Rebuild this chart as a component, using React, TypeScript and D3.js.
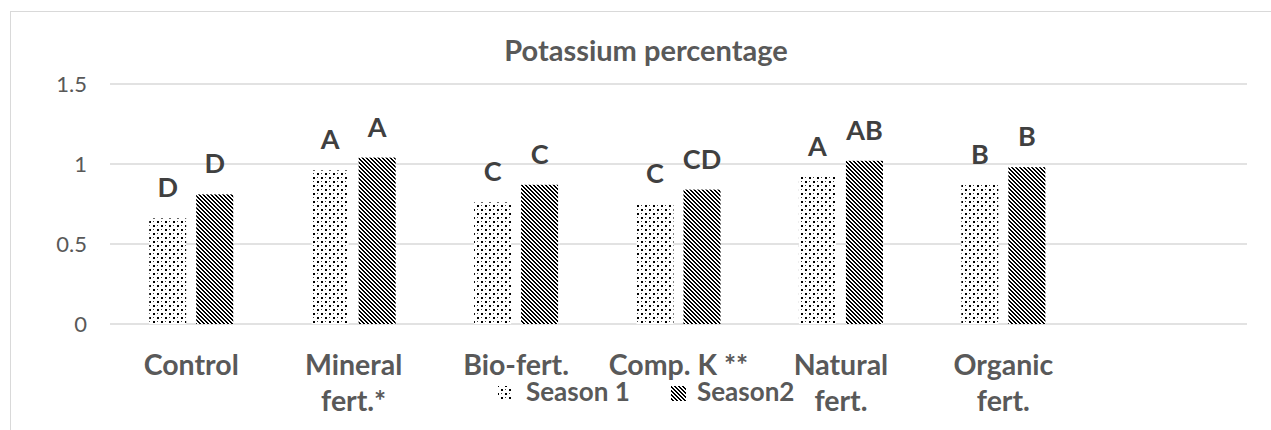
import React from "react";
import * as d3 from "d3";

const categories = ["Control", "Mineral fert.*", "Bio-fert.", "Comp. K **", "Natural fert.", "Organic fert."];
const categoryLines = [["Control"], ["Mineral", "fert.*"], ["Bio-fert."], ["Comp. K **"], ["Natural", "fert."], ["Organic", "fert."]];
const season1 = [0.66, 0.96, 0.76, 0.75, 0.92, 0.87];
const season2 = [0.81, 1.04, 0.87, 0.84, 1.02, 0.98];
const letters1 = ["D", "A", "C", "C", "A", "B"];
const letters2 = ["D", "A", "C", "CD", "AB", "B"];
const yTicks = [0, 0.5, 1, 1.5];
const seriesNames = ["Season 1", "Season2"];
const title = "Potassium percentage";

const W = 1271, H = 430;
const plotL = 110, plotR = 1247, plotT = 84, plotB = 324;
const slots = 7;
const FONT = "Lato, 'Open Sans', sans-serif";
const GRAY = "#595959";

export default function App() {
  const bandW = (plotR - plotL) / slots;
  const x = d3.scaleBand<string>().domain(categories).range([plotL, plotL + bandW * categories.length]);
  const y = d3.scaleLinear().domain([0, 1.5]).range([plotB, plotT]);
  const barW = 37, gap = 10;
  const inner = d3.scaleOrdinal<string, number>().domain(["s1", "s2"]).range([0, barW + gap]);
  const off = (x.bandwidth() - (2 * barW + gap)) / 2;

  const dotPattern = [[0, 0], [4, 4]];
  const stripe = [] as { x: number; y: number }[];
  for (let r = 0; r < 4; r++) {
    stripe.push({ x: r, y: r });
    stripe.push({ x: (r + 1) % 4, y: r });
  }

  const series = [
    { key: "s1", values: season1, letters: letters1, fill: "url(#dots)" },
    { key: "s2", values: season2, letters: letters2, fill: "url(#stripes)" },
  ];

  return (
    <div style={{ position: "absolute", left: 0, top: 0 }}>
      <svg width={W} height={H} style={{ display: "block", background: "#fff" }}>
        <defs>
          <pattern id="dots" width={8} height={8} patternUnits="userSpaceOnUse">
            <rect width={8} height={8} fill="#fff" />
            {dotPattern.map(([a, b], i) => (
              <rect key={i} x={a + 1} y={b + 1} width={2} height={2} fill="#000" />
            ))}
            <rect x={5} y={1} width={1} height={1} fill="#444" />
            <rect x={1} y={5} width={1} height={1} fill="#444" />
          </pattern>
          <pattern id="stripes" width={4} height={4} patternUnits="userSpaceOnUse">
            <rect width={4} height={4} fill="#fff" />
            {stripe.map((p, i) => (
              <rect key={i} x={p.x} y={p.y} width={1} height={1} fill="#000" shapeRendering="crispEdges" />
            ))}
          </pattern>
        </defs>
        <rect x={10.5} y={11.5} width={1300} height={500} fill="#fff" stroke="#d9d9d9" strokeWidth={1} />
        <text x={646} y={61} textAnchor="middle" fontFamily={FONT} fontWeight={700} fontSize={29} fill={GRAY}>
          {title}
        </text>
        {yTicks.map((t) => (
          <g key={t}>
            <line x1={plotL} x2={plotR} y1={y(t)} y2={y(t)} stroke="#d9d9d9" strokeWidth={1.5} />
            <text x={87} y={y(t)} dy="0.36em" textAnchor="end" fontFamily={FONT} fontSize={22} fill={GRAY}>
              {t}
            </text>
          </g>
        ))}
        {series.map((s) => (
          <g key={s.key}>
            {categories.map((c, i) => {
              const bx = (x(c) as number) + off + inner(s.key);
              const by = y(s.values[i]);
              return (
                <g key={c}>
                  <rect x={bx} y={by} width={barW} height={plotB - by} fill={s.fill} />
                  <text x={bx + barW / 2} y={by - 21} textAnchor="middle" fontFamily={FONT} fontWeight={700} fontSize={27} fill="#404040">
                    {s.letters[i]}
                  </text>
                </g>
              );
            })}
          </g>
        ))}
        {categories.map((c, i) => (
          <text key={c} x={(x(c) as number) + x.bandwidth() / 2} textAnchor="middle" fontFamily={FONT} fontWeight={700} fontSize={28.5} fill={GRAY}>
            {categoryLines[i].map((ln, j) => (
              <tspan key={j} x={(x(c) as number) + x.bandwidth() / 2} y={375 + j * 36}>
                {ln}
              </tspan>
            ))}
          </text>
        ))}
        <g>
          <rect x={498} y={386} width={15} height={15} fill="url(#dots)" />
          <text x={526} y={401} fontFamily={FONT} fontWeight={700} fontSize={26} fill={GRAY}>{seriesNames[0]}</text>
          <rect x={671} y={386} width={15} height={15} fill="url(#stripes)" />
          <text x={697} y={401} fontFamily={FONT} fontWeight={700} fontSize={26} fill={GRAY}>{seriesNames[1]}</text>
        </g>
      </svg>
    </div>
  );
}
